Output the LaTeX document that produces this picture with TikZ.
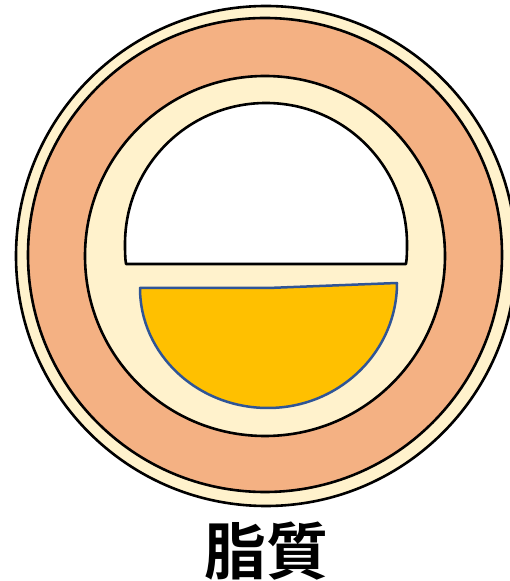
\documentclass[tikz,border=0pt]{standalone}
\usepackage{fontspec}
\newfontfamily\cjk{Noto Sans CJK JP}[BoldFont={Noto Sans CJK JP Bold}]
\definecolor{cream}{RGB}{255,242,204}
\definecolor{salmon}{RGB}{244,177,131}
\definecolor{fatfill}{RGB}{255,192,0}
\definecolor{fatline}{RGB}{47,85,151}
\tikzset{
	ring/.style={draw=black, line width=2.6pt},
	fat/.style={draw=fatline, fill=fatfill, line width=2.5pt, line join=round}
}
\begin{document}
\begin{tikzpicture}[x=1pt,y=-1pt,yshift=581pt]
	\useasboundingbox (0,0) rectangle (510,581);
	% wall layers, outside in
	\filldraw[ring, fill=cream] (266,256) circle (250);
	\filldraw[ring, fill=salmon] (265,255) circle (237);
	\filldraw[ring, fill=cream] (265,256) circle (180);

	% upper half, white
	\filldraw[ring, fill=white, line join=round] (126,264) .. controls (125,258) and (125,250) .. (125,244)
		.. controls (125,166) and (188,103) .. (266,103)
		.. controls (344,103) and (407,166) .. (407,244)
		.. controls (407,250) and (407,258) .. (406,264) -- cycle;

	% lower half, filled
	\filldraw[fat] (140,288) -- (268,288) -- (397,283)
		.. controls (397,352) and (339,408) .. (268,408)
		.. controls (197,408) and (140,354) .. (140,288) -- cycle;

	\node[font=\cjk\bfseries] (lipid) at (266,551) {\fontsize{62pt}{62pt}\selectfont 脂質};
\end{tikzpicture}
\end{document}
